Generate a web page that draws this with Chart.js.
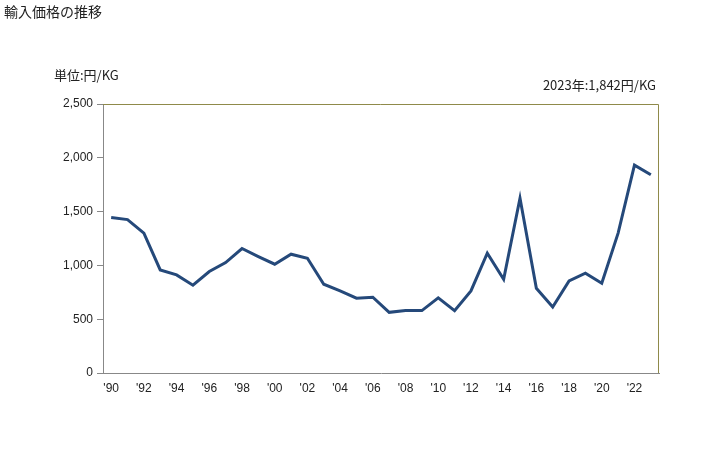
<!DOCTYPE html>
<html>
<head>
<meta charset="utf-8">
<script src="https://cdn.jsdelivr.net/npm/chart.js@4/dist/chart.umd.min.js"></script>
<style>
  html, body { margin: 0; padding: 0; background: #fff; }
  #wrap { position: relative; width: 728px; height: 450px; font-family: "Liberation Sans", "Noto Sans CJK JP", sans-serif; color: #222; }
  #c { position: absolute; left: 0; top: 0; }
  .t { position: absolute; white-space: nowrap; }
  #title { left: 4px; top: 1px; font-size: 14px; font-family: "Noto Sans CJK JP", sans-serif; }
  #unit { left: 54px; top: 65px; font-size: 13px; font-family: "Noto Sans CJK JP", sans-serif; }
  #note { right: 72px; top: 75px; font-size: 13px; font-family: "Noto Sans CJK JP", sans-serif; }
</style>
</head>
<body>
<div id="wrap">
  <canvas id="c" width="728" height="450"></canvas>
  <div class="t" id="title">輸入価格の推移</div>
  <div class="t" id="unit">単位:円/KG</div>
  <div class="t" id="note">2023年:1,842円/KG</div>
</div>
<script>
const years = [1990,1991,1992,1993,1994,1995,1996,1997,1998,1999,2000,2001,2002,2003,2004,2005,2006,2007,2008,2009,2010,2011,2012,2013,2014,2015,2016,2017,2018,2019,2020,2021,2022,2023];
const prices = [1445,1426,1300,958,912,816,943,1026,1157,1082,1011,1104,1067,825,763,695,704,564,580,580,698,580,763,1113,871,1625,788,614,856,927,834,1300,1932,1842];
const xTickLabels = ["'90","","'92","","'94","","'96","","'98","","'00","","'02","","'04","","'06","","'08","","'10","","'12","","'14","","'16","","'18","","'20","","'22",""];
const yTicks = [0,500,1000,1500,2000,2500];

const frame = {
  id: 'frame',
  afterDraw(chart) {
    const {ctx, chartArea: a} = chart;
    ctx.save();
    ctx.strokeStyle = '#8f8a4a';
    ctx.lineWidth = 1;
    ctx.beginPath();
    ctx.moveTo(a.left, a.top + 0.5);
    ctx.lineTo(a.right - 0.5, a.top + 0.5);
    ctx.lineTo(a.right - 0.5, a.bottom);
    ctx.stroke();
    ctx.restore();
  }
};

new Chart(document.getElementById('c'), {
  type: 'line',
  data: {
    labels: years.map(String),
    datasets: [{
      data: prices,
      borderColor: '#25497a',
      borderWidth: 3,
      pointRadius: 0,
      tension: 0,
      fill: false
    }]
  },
  options: {
    responsive: false,
    animation: false,
    devicePixelRatio: 1,
    layout: { padding: { left: 0, right: 69, top: 104, bottom: 0 } },
    plugins: { legend: { display: false }, tooltip: { enabled: false } },
    scales: {
      x: {
        offset: true,
        grid: { display: false, drawTicks: false },
        border: { display: true, color: '#888888', width: 1 },
        ticks: {
          autoSkip: false, maxRotation: 0, padding: 8,
          color: '#222', font: { family: '"Liberation Sans", sans-serif', size: 12 },
          callback: (v, i) => xTickLabels[i]
        },
        afterFit: s => { s.height = 77; }
      },
      y: {
        min: 0, max: 2500,
        afterBuildTicks: s => { s.ticks = yTicks.map(v => ({ value: v })); },
        grid: { drawOnChartArea: false, drawTicks: true, tickLength: 6, color: '#888888' },
        border: { display: true, color: '#888888', width: 1 },
        ticks: {
          padding: 4, color: '#222',
          font: { family: '"Liberation Sans", sans-serif', size: 12 },
          callback: v => v.toLocaleString('en-US')
        },
        afterFit: s => { s.width = 103; }
      }
    }
  },
  plugins: [frame]
});
</script>
</body>
</html>
